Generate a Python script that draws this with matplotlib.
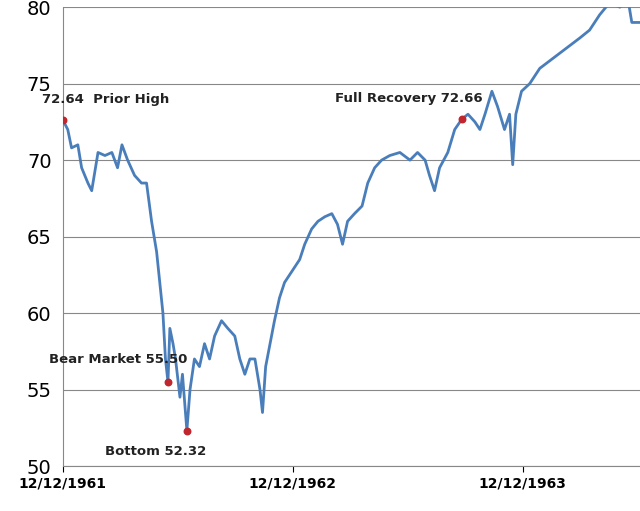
import matplotlib
matplotlib.use("Agg")
import matplotlib.pyplot as plt
import numpy as np
import datetime as dt

start = dt.date(1961, 12, 12)
days = [0,8,14,24,30,40,46,56,67,78,87,94,103,114,125,133,141,149,154,159,163,167,170,175,179,186,190,197,202,209,217,225,233,241,252,262,273,281,289,297,305,313,317,322,329,336,344,352,360,368,376,384,395,405,416,427,436,444,452,463,475,484,495,506,519,535,551,563,575,582,590,598,611,622,633,643,654,662,670,681,690,701,709,714,719,728,741,757,773,789,805,821,836,852,868,884,897,903,916]
values = [72.64,72,70.8,71,69.5,68.5,68,70.5,70.3,70.5,69.5,71,70,69,68.5,68.5,66,64,62,60,57,55.5,59,58,57,54.5,56,52.32,55,57,56.5,58,57,58.5,59.5,59,58.5,57,56,57,57,55,53.5,56.5,58,59.5,61,62,62.5,63,63.5,64.5,65.5,66,66.3,66.5,65.8,64.5,66,66.5,67,68.5,69.5,70,70.3,70.5,70,70.5,70,69,68,69.5,70.5,72,72.66,73,72.5,72,73,74.5,73.5,72,73,69.7,73,74.5,75,76,76.5,77,77.5,78,78.5,79.5,80.3,80,80.5,79,79]
pt_days = [0, 167, 197, 633]
pt_vals = [72.64, 55.50, 52.32, 72.66]
pt_labels = ["72.64  Prior High", "Bear Market 55.50", "Bottom 52.32", "Full Recovery 72.66"]
tick_days = [0, 365, 730]
tick_labels = ["12/12/1961", "12/12/1962", "12/12/1963"]

fig = plt.figure(figsize=(6.4, 5.11), dpi=100)
ax = fig.add_axes([0.098, 0.088, 0.902, 0.898])
ax.plot(days, values, color="#4a7ebb", lw=2)
ax.scatter(pt_days, pt_vals, color="#c0262d", s=22, zorder=3)
offs = [(-21, 20), (-119, 22), (-82, -21), (-127, 21)]
for d, v, lab, (dx, dy) in zip(pt_days, pt_vals, pt_labels, offs):
    ax.annotate(lab, (d, v), xytext=(dx, dy), textcoords="offset pixels", ha="left",
                va="center", fontsize=9.5, fontweight="bold", color="#222222")
ax.set_xlim(0, 916)
ax.set_ylim(50, 80)
ax.set_yticks(range(50, 81, 5))
ax.set_xticks(tick_days)
ax.set_xticklabels(tick_labels, fontsize=10, fontweight="bold")
ax.tick_params(axis="y", labelsize=14, length=0, pad=8)
ax.tick_params(axis="x", length=4, direction="out")
ax.grid(axis="y", color="#888888", lw=0.8)
ax.set_axisbelow(True)
for s in ["top", "right"]:
    ax.spines[s].set_visible(False)
for s in ["left", "bottom"]:
    ax.spines[s].set_color("#888888")
fig.savefig("out.png", dpi=100)
